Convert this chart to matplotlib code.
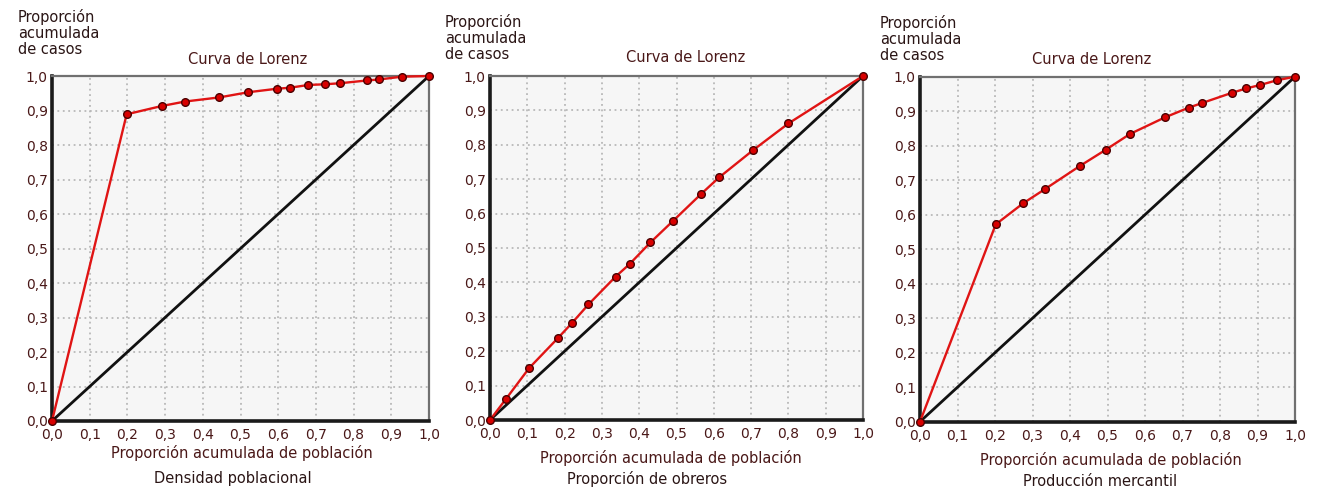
#!/usr/bin/env python3
"""
Curvas de Lorenz: densidad poblacional, proporcion de obreros y produccion mercantil.
"""

import matplotlib
matplotlib.use("Agg")
import matplotlib.pyplot as plt

# Panel 1 - Densidad poblacional
densidad_x = [0.0, 0.198, 0.291, 0.353, 0.444, 0.521, 0.596, 0.631, 0.680,
              0.724, 0.764, 0.835, 0.868, 0.928, 1.0]
densidad_y = [0.0, 0.889, 0.913, 0.926, 0.938, 0.953, 0.963, 0.966, 0.974,
              0.976, 0.979, 0.987, 0.990, 0.998, 1.0]

# Panel 2 - Proporcion de obreros
obreros_x = [0.0, 0.042, 0.105, 0.182, 0.219, 0.264, 0.337, 0.374, 0.430,
             0.491, 0.566, 0.614, 0.706, 0.800, 1.0]
obreros_y = [0.0, 0.060, 0.151, 0.238, 0.281, 0.336, 0.417, 0.453, 0.516,
             0.579, 0.657, 0.705, 0.785, 0.862, 1.0]

# Panel 3 - Produccion mercantil
mercantil_x = [0.0, 0.202, 0.275, 0.333, 0.426, 0.495, 0.560, 0.653, 0.716,
               0.753, 0.831, 0.870, 0.907, 0.953, 1.0]
mercantil_y = [0.0, 0.572, 0.633, 0.674, 0.741, 0.788, 0.834, 0.882, 0.910,
               0.924, 0.953, 0.966, 0.976, 0.990, 1.0]

subtitles = ["Densidad poblacional", "Proporción de obreros", "Producción mercantil"]
ticks = [i / 10 for i in range(11)]
tick_labels = [f"{t:.1f}".replace(".", ",") for t in ticks]

TEXT_COLOR = "#4a1818"
W, H = 1318, 488


def draw_panel(fig, rect, xs, ys, subtitle, title_xy, ylab_xy, xlab_xy, sub_xy):
    """Draw one Lorenz panel at the given pixel-derived layout."""
    ax = fig.add_axes(rect)
    ax.set_facecolor("#f6f6f6")
    ax.set_xlim(0, 1)
    ax.set_ylim(0, 1)

    # dotted grid
    ax.set_xticks(ticks)
    ax.set_yticks(ticks)
    ax.grid(True, color="#b8b8b8", linestyle=(0, (1, 2)), linewidth=1.3)
    ax.set_axisbelow(True)

    ax.set_xticklabels(tick_labels)
    ax.set_yticklabels(tick_labels)
    ax.tick_params(length=0, labelsize=10, colors=TEXT_COLOR)
    ax.tick_params(axis="x", pad=5)
    ax.tick_params(axis="y", pad=3)

    # thick solid left/bottom, dotted top/right
    for side in ("left", "bottom"):
        ax.spines[side].set_color("#1a1a1a")
        ax.spines[side].set_linewidth(2.6)
    for side in ("top", "right"):
        ax.spines[side].set_color("#707070")
        ax.spines[side].set_linewidth(1.6)
        ax.spines[side].set_linestyle((0, (1, 1)))

    # line of equality and Lorenz curve
    ax.plot([0, 1], [0, 1], color="#111111", linewidth=2.0, zorder=3)
    ax.plot(xs, ys, color="#e01414", linewidth=1.7, marker="o", markersize=5.5,
            markerfacecolor="#d80000", markeredgecolor="#4a0000",
            markeredgewidth=1.0, zorder=4, clip_on=False)

    fig.text(title_xy[0] / W, 1 - title_xy[1] / H, "Curva de Lorenz",
             ha="center", va="center", fontsize=10.5, color=TEXT_COLOR)
    fig.text(ylab_xy[0] / W, 1 - ylab_xy[1] / H, "Proporción\nacumulada\nde casos",
             ha="left", va="top", fontsize=10.5, color="#2a1515", linespacing=1.08)
    fig.text(xlab_xy[0] / W, 1 - xlab_xy[1] / H, "Proporción acumulada de población",
             ha="center", va="center", fontsize=10.5, color=TEXT_COLOR)
    fig.text(sub_xy[0] / W, 1 - sub_xy[1] / H, subtitle,
             ha="center", va="center", fontsize=10.5, color="#2a1515")
    return ax


def main():
    fig = plt.figure(figsize=(W / 100, H / 100), dpi=100)
    fig.patch.set_facecolor("white")

    draw_panel(fig, [52 / W, 1 - 421 / H, 377 / W, 345 / H],
               densidad_x, densidad_y, subtitles[0],
               (248, 60), (18, 9), (242, 453), (233, 478))
    draw_panel(fig, [490 / W, 1 - 420 / H, 373 / W, 344 / H],
               obreros_x, obreros_y, subtitles[1],
               (686, 58), (445, 14), (671, 458), (647, 479))
    draw_panel(fig, [920 / W, 1 - 421.7 / H, 375 / W, 345 / H],
               mercantil_x, mercantil_y, subtitles[2],
               (1092, 60), (880, 15), (1111, 460), (1100, 481))

    fig.savefig("out.png", dpi=100)
    plt.close(fig)


if __name__ == "__main__":
    main()
